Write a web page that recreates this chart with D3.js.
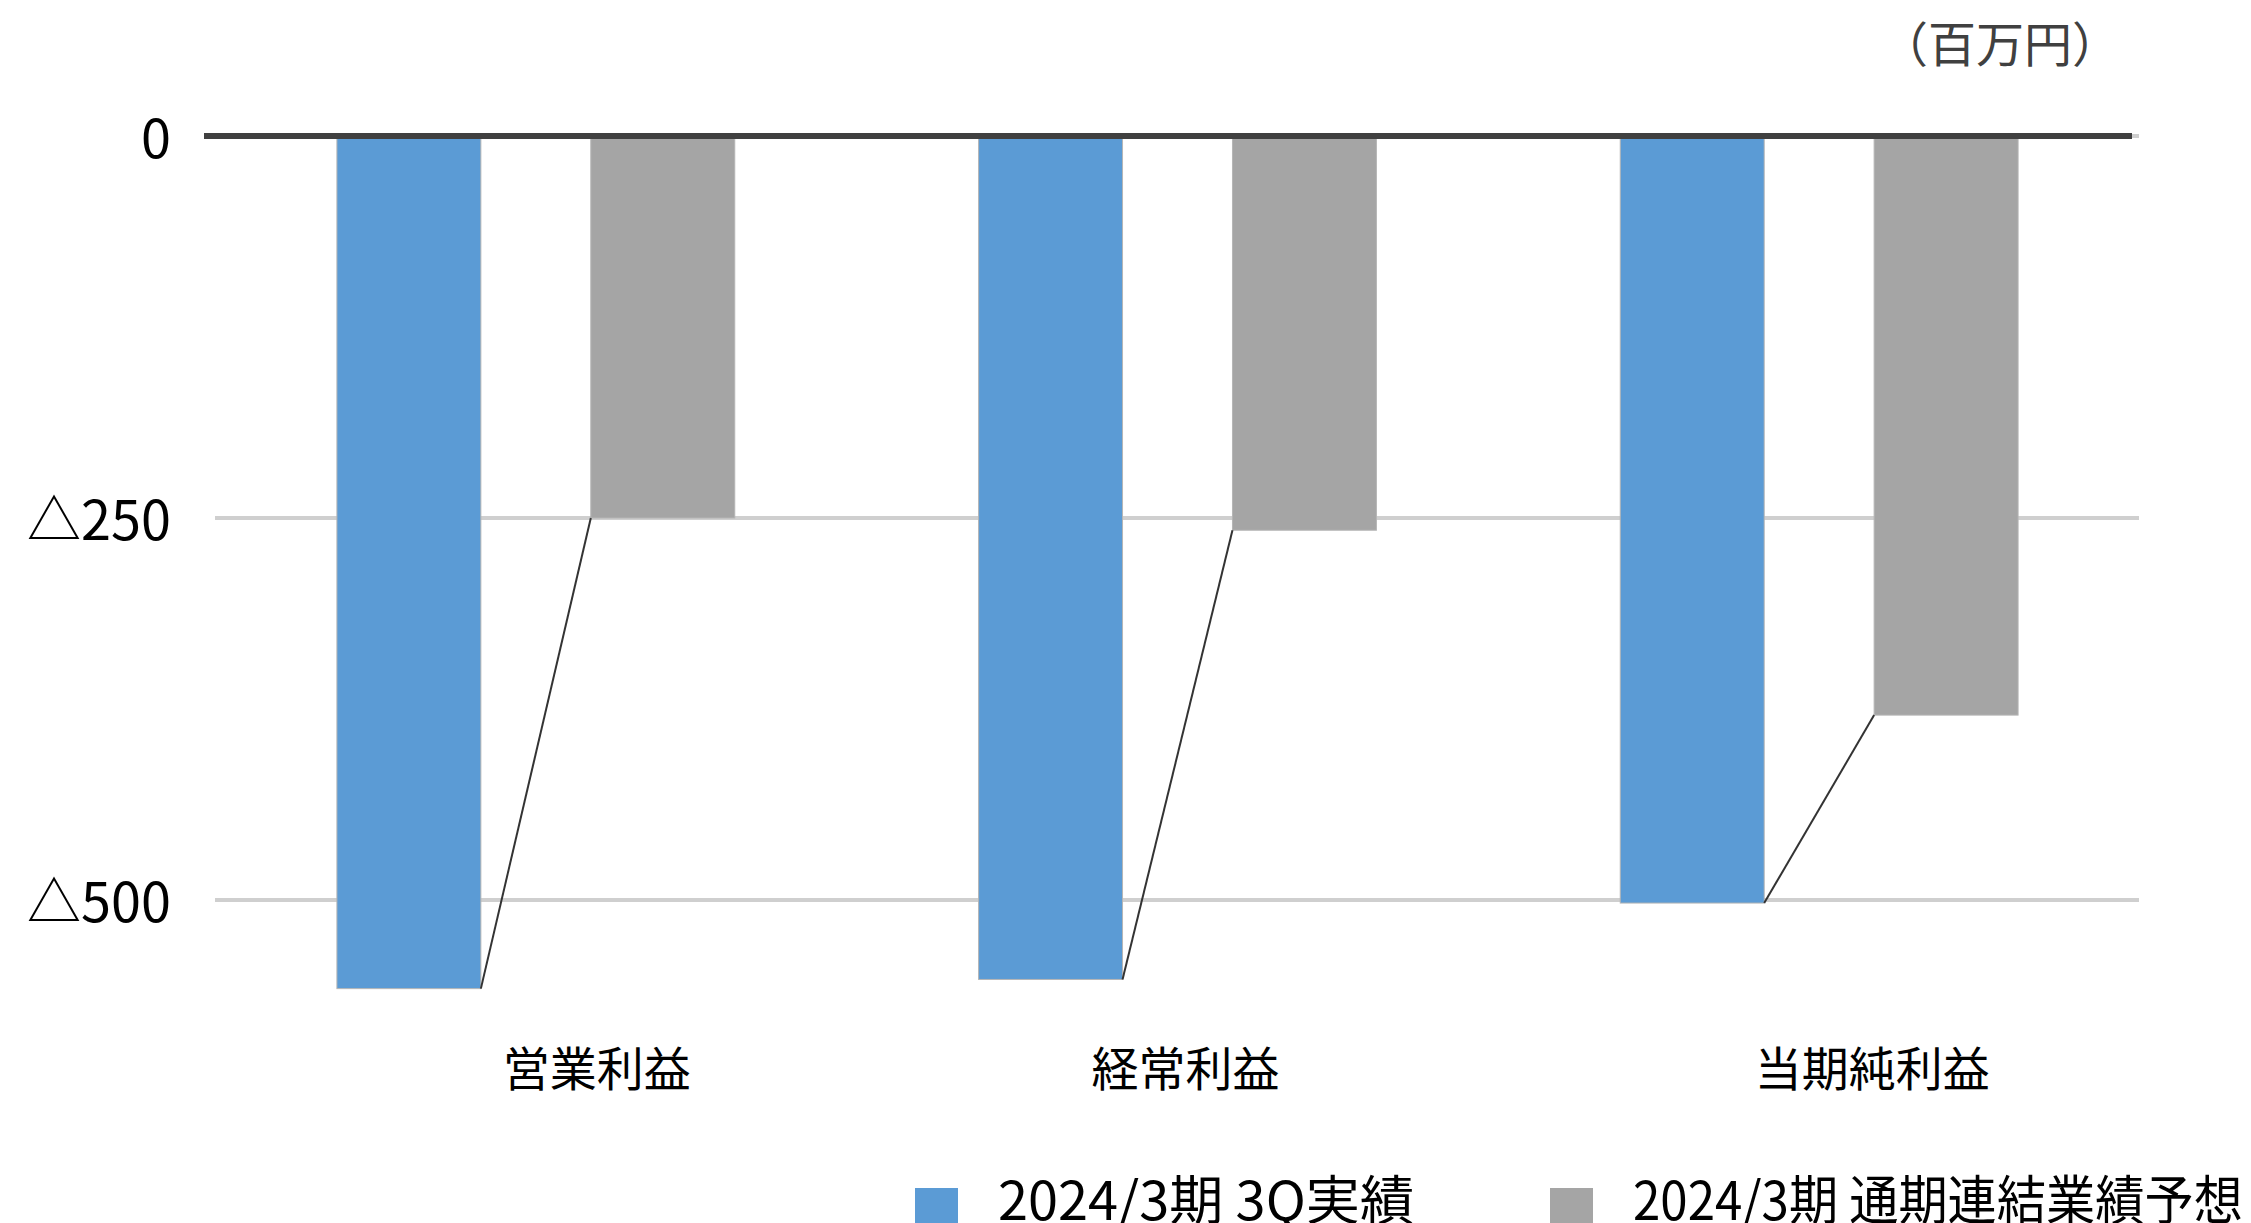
<!DOCTYPE html>
<meta charset="utf-8">
<script src="https://d3js.org/d3.v7.min.js"></script>
<style>
  body { margin: 0; background: #fff; }
  text { font-family: "Noto Sans CJK JP", "Noto Sans", sans-serif; }
</style>
<div id="my_dataviz"></div>
<script>

// data (百万円)
var categories = ["営業利益", "経常利益", "当期純利益"];
var seriesNames = ["2024/3期 3Q実績", "2024/3期 通期連結業績予想"];
var actual3Q = [-558, -552, -502];
var forecast = [-250, -258, -379];
var yTicks = [0, -250, -500];
var yTickLabels = ["0", "△250", "△500"];
var unitLabel = "（百万円）";

var colors = ["#5B9BD5", "#A5A5A5"];

var W = 2251, H = 1223;

var svg = d3.select("#my_dataviz")
  .append("svg")
    .attr("width", W)
    .attr("height", H);

// scales
var x0 = d3.scaleBand()
  .domain(categories)
  .range([215, 2140])
  .paddingInner(0.38)
  .paddingOuter(0.19);

var x1 = d3.scaleBand()
  .domain(seriesNames)
  .range([0, x0.bandwidth()])
  .paddingInner(0.433)
  .paddingOuter(0);

var y = d3.scaleLinear()
  .domain([0, -500])
  .range([136, 900]);

// gridlines
svg.append("g")
  .selectAll("line")
  .data(yTicks)
  .enter()
  .append("line")
    .attr("x1", 215)
    .attr("x2", 2139)
    .attr("y1", function (d) { return y(d); })
    .attr("y2", function (d) { return y(d); })
    .style("stroke", "#cfcfcf")
    .style("stroke-width", 4);

// y axis labels
var yAxis = d3.axisLeft(y)
  .tickValues(yTicks)
  .tickSize(0)
  .tickPadding(0)
  .tickFormat(function (d, i) { return yTickLabels[i]; });

var gy = svg.append("g")
  .attr("transform", "translate(171,4)")
  .call(yAxis);
gy.select(".domain").remove();
gy.selectAll("text")
  .style("font-family", "'Noto Sans CJK JP', sans-serif")
  .style("font-size", "54px")
  .style("fill", "#000");

// bars
var rows = categories.map(function (c, i) {
  return { cat: c, values: [actual3Q[i], forecast[i]] };
});

var groups = svg.append("g")
  .selectAll("g")
  .data(rows)
  .enter()
  .append("g")
    .attr("transform", function (d) { return "translate(" + x0(d.cat) + ",0)"; });

groups.selectAll("rect")
  .data(function (d) { return d.values.map(function (v, j) { return { s: seriesNames[j], v: v, j: j }; }); })
  .enter()
  .append("rect")
    .attr("x", function (d) { return x1(d.s); })
    .attr("y", y(0))
    .attr("width", x1.bandwidth())
    .attr("height", function (d) { return y(d.v) - y(0); })
    .style("fill", function (d) { return colors[d.j]; })
    .style("stroke", "#b5b5b5")
    .style("stroke-width", 1);

// connector lines between bar bottoms
groups.append("line")
  .attr("x1", function () { return x1(seriesNames[0]) + x1.bandwidth(); })
  .attr("y1", function (d) { return y(d.values[0]); })
  .attr("x2", function () { return x1(seriesNames[1]); })
  .attr("y2", function (d) { return y(d.values[1]); })
  .style("stroke", "#333")
  .style("stroke-width", 2);

// zero line
svg.append("line")
  .attr("x1", 204)
  .attr("x2", 2132)
  .attr("y1", y(0))
  .attr("y2", y(0))
  .style("stroke", "#404040")
  .style("stroke-width", 6);

// category labels (sit a bit right of the group centres in the original)
var labelShift = [61, 8, 53];
svg.append("g")
  .selectAll("text")
  .data(categories)
  .enter()
  .append("text")
    .attr("x", function (d, i) { return x0(d) + x0.bandwidth() / 2 + labelShift[i]; })
    .attr("y", 1065)
    .attr("text-anchor", "middle")
    .attr("dominant-baseline", "central")
    .style("font-size", "47px")
    .style("fill", "#000")
    .text(function (d) { return d; });

// unit
svg.append("text")
  .attr("x", 2120)
  .attr("y", 41)
  .attr("text-anchor", "end")
  .attr("dominant-baseline", "central")
  .style("font-size", "48px")
  .style("fill", "#404040")
  .text(unitLabel);

// legend
var legendX = [915, 1550];
var legendLen = [416, 610];
var legend = svg.append("g")
  .selectAll("g")
  .data(seriesNames)
  .enter()
  .append("g")
    .attr("transform", function (d, i) { return "translate(" + legendX[i] + ",1188)"; });

legend.append("rect")
  .attr("width", 43)
  .attr("height", 43)
  .style("fill", function (d, i) { return colors[i]; });

legend.append("text")
  .attr("x", 83)
  .attr("y", 32)
  .attr("textLength", function (d, i) { return legendLen[i]; })
  .attr("lengthAdjust", "spacingAndGlyphs")
  .style("font-size", "53px")
  .style("fill", "#000")
  .text(function (d) { return d; });

</script>
